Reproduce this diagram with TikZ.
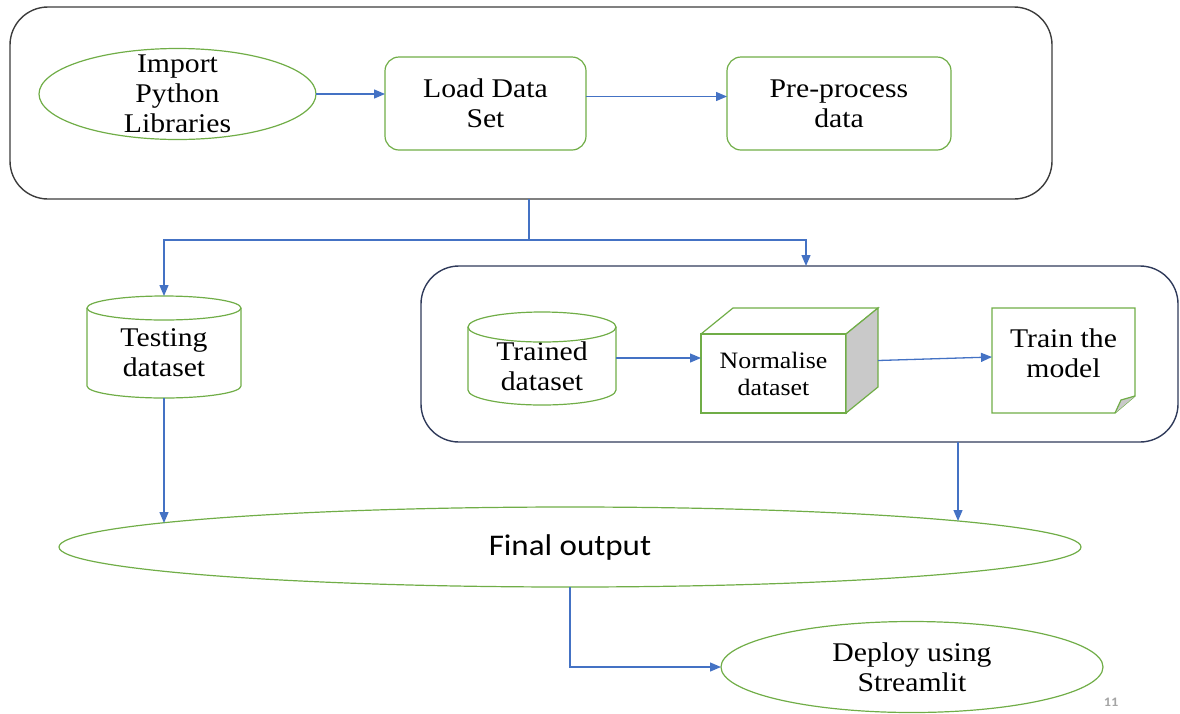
\documentclass[tikz,border=0pt]{standalone}
\usepackage{fontspec}
\setmainfont{Liberation Serif}[FakeStretch=1.1]
\newfontfamily\calfont{Carlito}[FakeStretch=1.1]
\usetikzlibrary{arrows.meta,shapes.geometric}
\definecolor{node_green}{RGB}{112,173,71}
\definecolor{edge_blue}{RGB}{68,114,196}
\definecolor{frame_gray}{RGB}{60,60,60}
\definecolor{frame_navy}{RGB}{47,58,90}
\definecolor{fold_gray}{RGB}{201,201,201}
\definecolor{page_gray}{RGB}{165,165,165}

% cylinder outline round a named node: name, x radius, y radius
\newcommand{\drawcyl}[3]{%
  \draw[outline] (#1.north) ellipse[x radius=#2pt, y radius=#3pt];
  \draw[outline] (#1.north west) -- ([yshift=#3pt]#1.south west)
    arc[start angle=180, end angle=360, x radius=#2pt, y radius=#3pt]
    -- (#1.north east);}

\begin{document}
\begin{tikzpicture}[x=1pt,y=-1pt,>={Triangle[length=11pt,width=9pt]}]
    \tikzstyle{txt}=[font=\fontsize{27}{30}\selectfont, align=center, text=black, inner sep=0pt, outer sep=0pt]
    \tikzstyle{proc}=[txt, draw=node_green, line width=1.2pt, rounded corners=14pt]
    \tikzstyle{oval}=[txt, ellipse, draw=node_green, line width=1.2pt]
    \tikzstyle{plain}=[txt]
    \tikzstyle{outline}=[draw=node_green, line width=1.2pt]
    \tikzstyle{frame}=[draw, line width=1.4pt, rounded corners=38pt, inner sep=0pt, outer sep=0pt]
    \tikzstyle{flow}=[->, draw=edge_blue, line width=1.3pt]

    \useasboundingbox (0,0) rectangle (1180,713);

    % preparation block
    \node[frame, draw=frame_gray, minimum width=1042, minimum height=192] (setup) at (531,103) {};
    \node[oval, minimum width=277, minimum height=91, inner ysep=-12pt] (import) at (177.5,94) {Import\\Python\\Libraries};
    \node[proc, minimum width=201, minimum height=93] (load) at (485.5,103.5) {Load Data\\Set};
    \node[proc, minimum width=224, minimum height=93] (prep) at (839,103.5) {Pre-process\\data};

    % training block
    \node[frame, draw=frame_navy, minimum width=757, minimum height=176] (model) at (799.5,354) {};
    \node[plain, minimum width=154, minimum height=90] (test) at (164,353) {Testing\\dataset};
    \node[plain, minimum width=148, minimum height=78] (trained) at (542,366) {Trained\\dataset};
    \node[plain, minimum width=145, minimum height=79, font=\fontsize{23.5}{27}\selectfont] (norm) at (773.5,373.5) {Normalise\\dataset};
    \node[plain, minimum width=143, minimum height=90] (train) at (1063.5,353) {Train the\\model};

    \node[oval, font=\calfont\fontsize{30}{36}\selectfont, minimum width=1022, minimum height=80] (final) at (570,547) {Final output};
    \node[oval, minimum width=382, minimum height=91] (deploy) at (912,667) {Deploy using\\Streamlit};
    \node[font=\calfont\bfseries\fontsize{13}{15}\selectfont, text=page_gray] (pagenum) at (1111,702) {11};

    \drawcyl{test}{77}{12}
    \drawcyl{trained}{74}{15}
    % box with depth
    \draw[outline] (norm.south west) rectangle (norm.north east);
    \draw[outline] (norm.north west) -- ++(32,-26) -- ++(145,0) -- (norm.north east);
    \draw[outline, fill=fold_gray] (norm.north east) -- ++(32,-26) -- ++(0,79) -- (norm.south east) -- cycle;
    % sheet with folded corner
    \draw[outline] (train.north west) -- (train.north east) -- ([yshift=2pt]train.south east)
      -- ([xshift=-20pt,yshift=-15pt]train.south east) -- ([yshift=-15pt]train.south west) -- cycle;
    \draw[outline, fill=fold_gray] ([yshift=2pt]train.south east) -- ([xshift=-14pt,yshift=-2pt]train.south east)
      -- ([xshift=-20pt,yshift=-15pt]train.south east);

    \coordinate (split) at (529,240);
    \coordinate (drop) at (806,266);
    \coordinate (landL) at (163,523);
    \coordinate (landR) at (958,521);
    \draw[flow] (import.east) -- (import.east -| load.west);
    \draw[flow] ([yshift=7pt]load.east) -- ([yshift=7pt]load.east -| prep.west);
    \draw[edge_blue, line width=1.3pt] (setup.south -| split) -- (split);
    \draw[flow] (split) -| ([yshift=12pt]test.north);
    \draw[flow] (split) -| (drop);
    \draw[flow] ([yshift=8pt]trained.east) -- ([yshift=8pt]trained.east -| norm.west);
    \draw[flow] ([shift={(32,-13)}]norm.east) -- ([yshift=-4pt]train.west);
    \draw[flow] (test.south) -- (test.south |- landL);
    \draw[flow] (model.south -| landR) -- (landR);
    \draw[flow] (final.south) |- (deploy.west);
\end{tikzpicture}
\end{document}
